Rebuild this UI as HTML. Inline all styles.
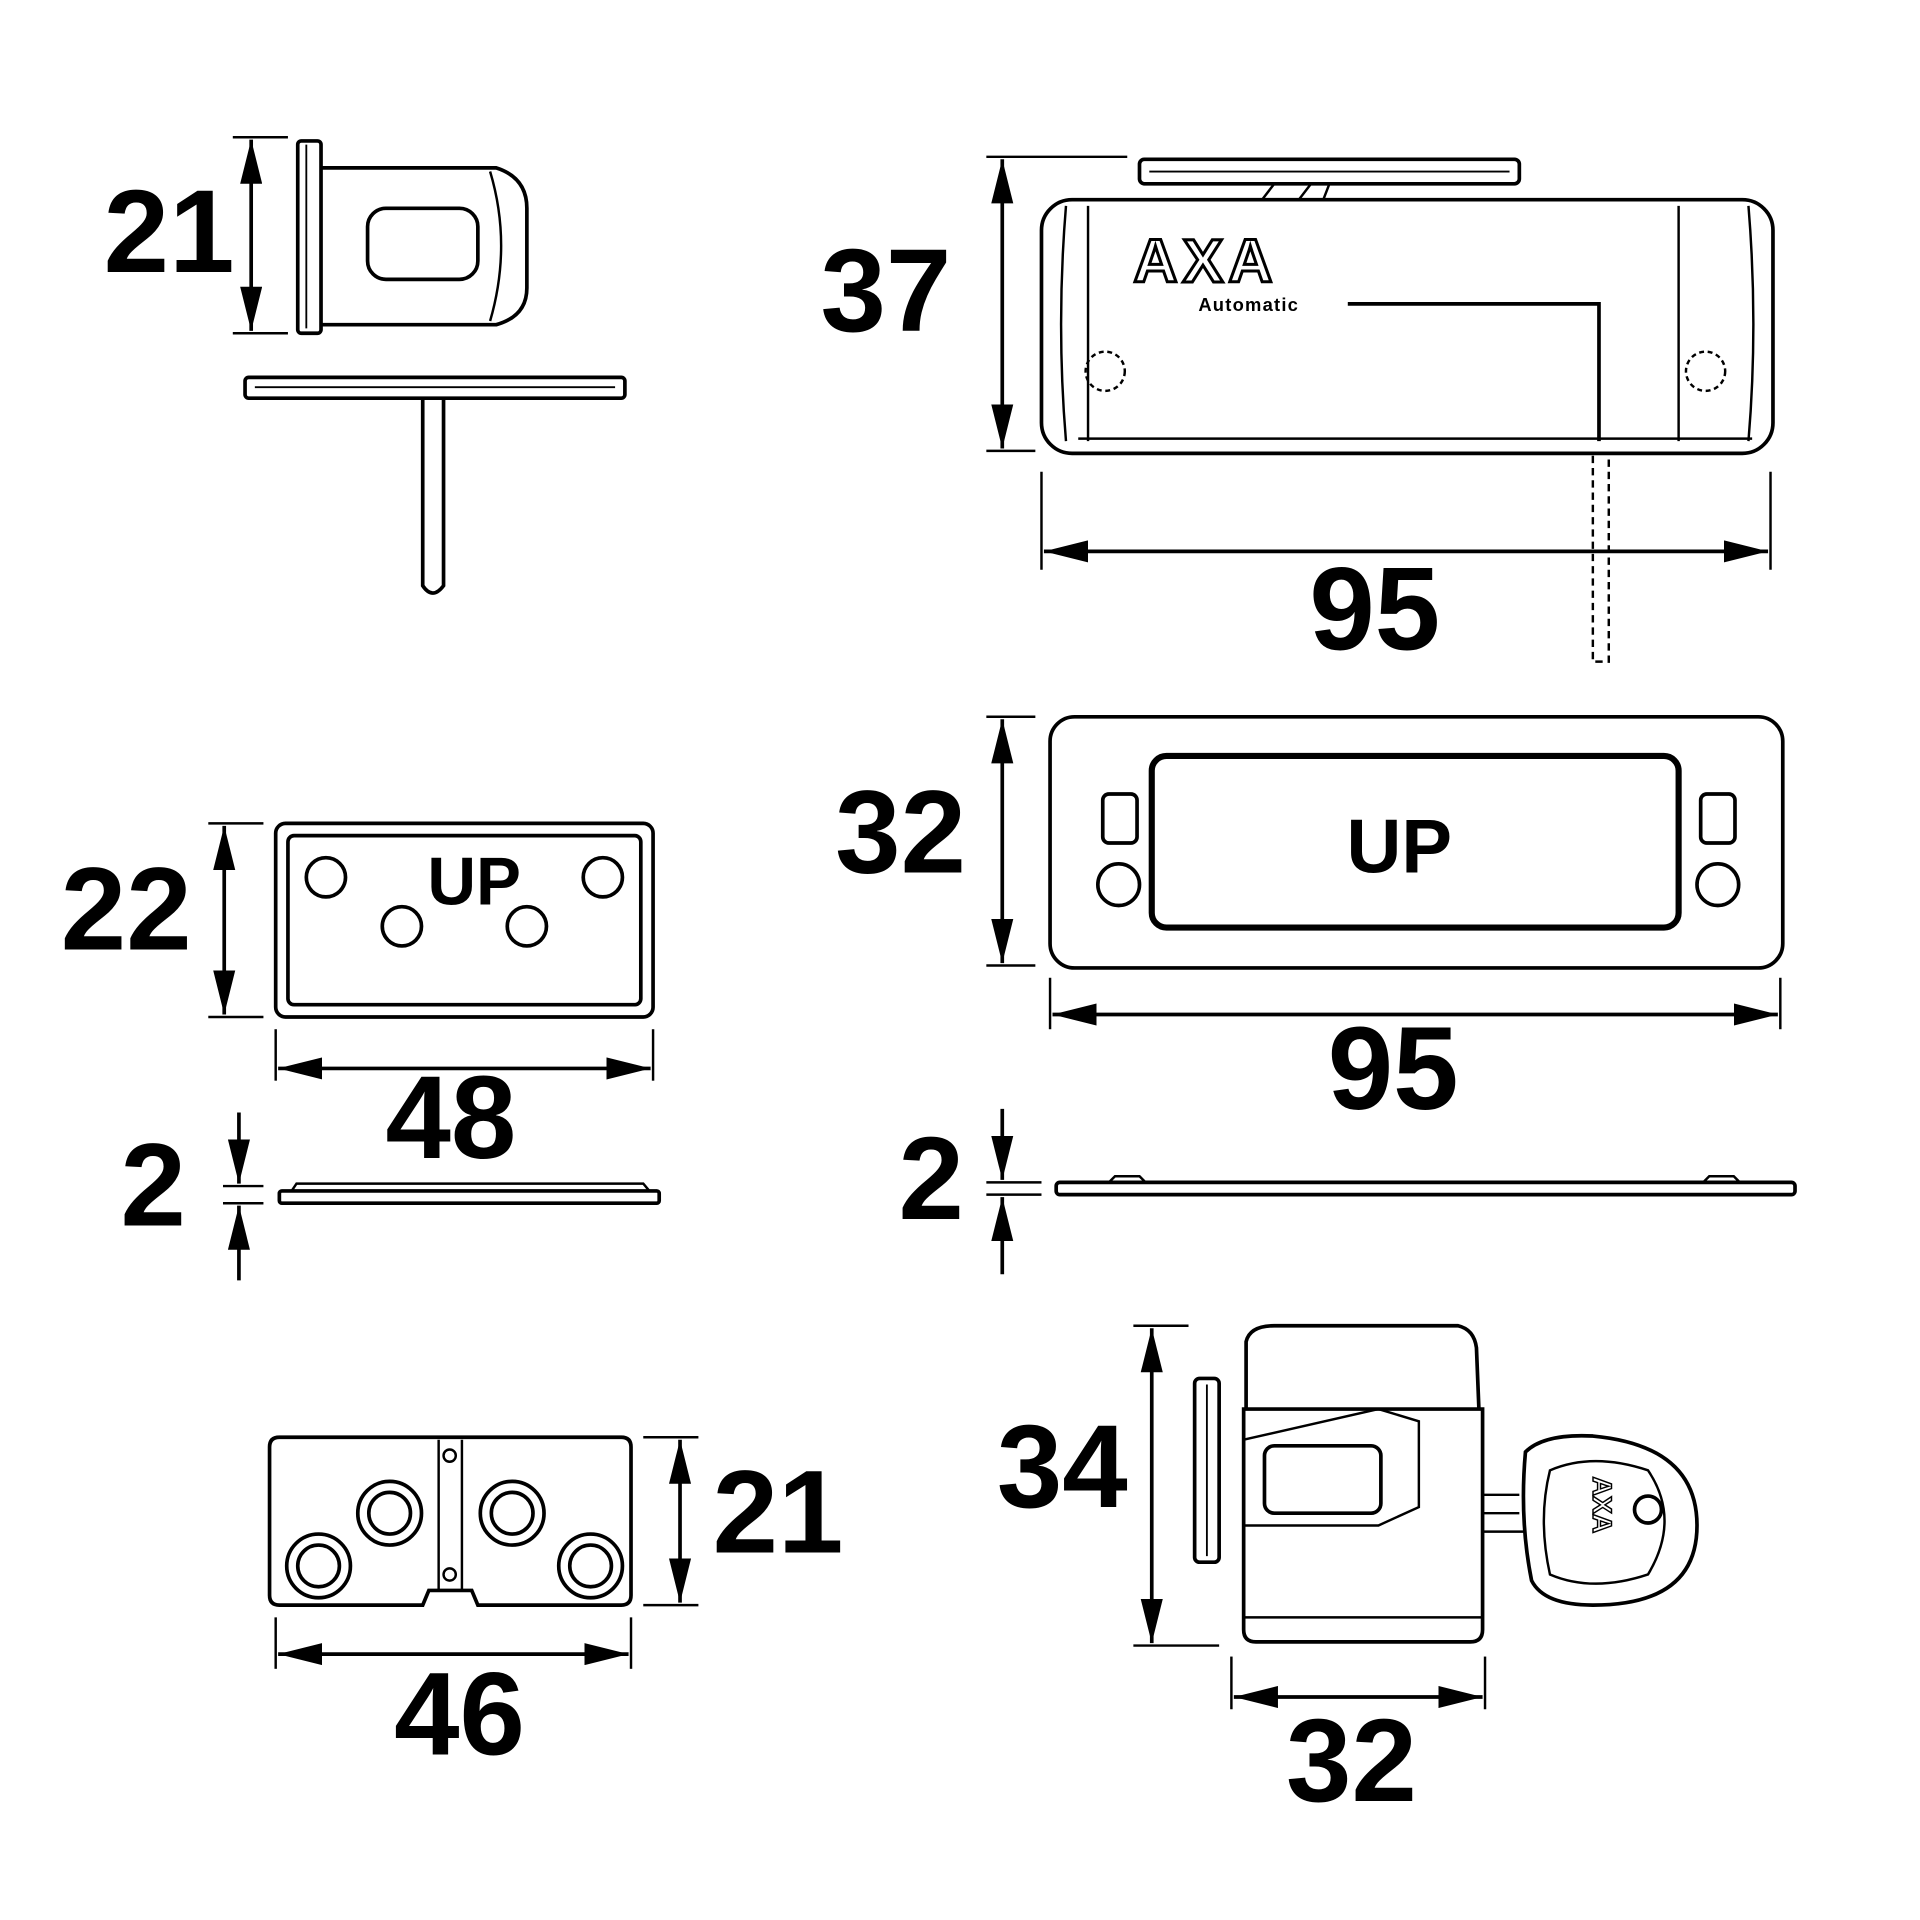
<!DOCTYPE html>
<html><head><meta charset="utf-8"><style>
html,body{margin:0;padding:0;background:#fff;}
svg{display:block;}
text{font-family:"Liberation Sans",sans-serif;font-weight:bold;fill:#000;}
</style></head><body>
<svg width="1920" height="1920" viewBox="0 0 1567 1567" xmlns="http://www.w3.org/2000/svg">
<defs>
<marker id="a" viewBox="0 0 20 10" refX="20" refY="5" markerWidth="36" markerHeight="18" markerUnits="userSpaceOnUse" orient="auto-start-reverse"><path d="M0,0 L20,5 L0,10 z" fill="#000"/></marker>
</defs>
<g fill="none" stroke="#000" stroke-width="3">
<!-- Top-left -->
<line x1="190" y1="112" x2="235" y2="112" stroke-width="2"/>
<line x1="190" y1="272" x2="235" y2="272" stroke-width="2"/>
<line x1="205" y1="114" x2="205" y2="270" marker-start="url(#a)" marker-end="url(#a)"/>
<rect x="243" y="115" width="19" height="157" rx="3"/>
<line x1="250" y1="118" x2="250" y2="268" stroke-width="1.5"/>
<path d="M262,137 L405,137 Q430,145 430,170 L430,235 Q430,258 405,265 L262,265"/>
<path d="M400,140 Q418,200 400,262" stroke-width="2"/>
<rect x="300" y="170" width="90" height="58" rx="15"/>
<rect x="200" y="308" width="310" height="17" rx="3"/>
<line x1="208" y1="316" x2="502" y2="316" stroke-width="1.5"/>
<path d="M345,325 L345,478 Q353,490 362,478 L362,325"/>

<!-- Top-right -->
<line x1="805" y1="128" x2="920" y2="128" stroke-width="2"/>
<line x1="805" y1="368" x2="845" y2="368" stroke-width="2"/>
<line x1="818" y1="130" x2="818" y2="366" marker-start="url(#a)" marker-end="url(#a)"/>
<rect x="930" y="130" width="310" height="20" rx="4"/>
<line x1="938" y1="140" x2="1232" y2="140" stroke-width="1.5"/>
<path d="M1030,163 L1040,150 M1060,163 L1070,150 M1080,163 L1085,150" stroke-width="2"/>
<rect x="850" y="163" width="597" height="207" rx="25"/>
<path d="M870,168 Q862,265 870,360" stroke-width="2"/>
<path d="M1427,168 Q1435,265 1427,360" stroke-width="2"/>
<line x1="1370" y1="168" x2="1370" y2="360" stroke-width="2"/>
<line x1="888" y1="168" x2="888" y2="360" stroke-width="2"/>
<line x1="880" y1="358" x2="1430" y2="358" stroke-width="2"/>
<polyline points="1100,248 1305,248 1305,360"/>
<circle cx="902" cy="303" r="16" stroke-dasharray="4 3" stroke-width="2"/>
<circle cx="1392" cy="303" r="16" stroke-dasharray="4 3" stroke-width="2"/>
<path d="M1300,372 L1300,540 L1313,540 L1313,372" stroke-dasharray="6 4" stroke-width="2"/>
<line x1="850" y1="385" x2="850" y2="465" stroke-width="2"/>
<line x1="1445" y1="385" x2="1445" y2="465" stroke-width="2"/>
<line x1="852" y1="450" x2="1443" y2="450" marker-start="url(#a)" marker-end="url(#a)"/>

<!-- Middle-right -->
<rect x="857" y="585" width="598" height="205" rx="20"/>
<rect x="940" y="617" width="430" height="140" rx="12" stroke-width="5"/>
<rect x="900" y="648" width="28" height="40" rx="5"/>
<rect x="1388" y="648" width="28" height="40" rx="5"/>
<circle cx="913" cy="722" r="17"/>
<circle cx="1402" cy="722" r="17"/>
<line x1="805" y1="585" x2="845" y2="585" stroke-width="2"/>
<line x1="805" y1="788" x2="845" y2="788" stroke-width="2"/>
<line x1="818" y1="587" x2="818" y2="786" marker-start="url(#a)" marker-end="url(#a)"/>
<line x1="857" y1="798" x2="857" y2="840" stroke-width="2"/>
<line x1="1453" y1="798" x2="1453" y2="840" stroke-width="2"/>
<line x1="859" y1="828" x2="1451" y2="828" marker-start="url(#a)" marker-end="url(#a)"/>
<rect x="862" y="965" width="603" height="10" rx="3"/>
<path d="M905,965 L910,960 L930,960 L935,965 M1390,965 L1395,960 L1415,960 L1420,965" stroke-width="2"/>
<line x1="805" y1="965" x2="850" y2="965" stroke-width="2"/>
<line x1="805" y1="975" x2="850" y2="975" stroke-width="2"/>
<line x1="818" y1="905" x2="818" y2="963" marker-end="url(#a)"/>
<line x1="818" y1="1040" x2="818" y2="977" marker-end="url(#a)"/>

<!-- Middle-left -->
<rect x="225" y="672" width="308" height="158" rx="8"/>
<rect x="235" y="682" width="288" height="138" rx="5"/>
<circle cx="266" cy="716" r="16"/><circle cx="492" cy="716" r="16"/>
<circle cx="328" cy="756" r="16"/><circle cx="430" cy="756" r="16"/>
<line x1="170" y1="672" x2="215" y2="672" stroke-width="2"/>
<line x1="170" y1="830" x2="215" y2="830" stroke-width="2"/>
<line x1="183" y1="674" x2="183" y2="828" marker-start="url(#a)" marker-end="url(#a)"/>
<line x1="225" y1="840" x2="225" y2="882" stroke-width="2"/>
<line x1="533" y1="840" x2="533" y2="882" stroke-width="2"/>
<line x1="227" y1="872" x2="531" y2="872" marker-start="url(#a)" marker-end="url(#a)"/>
<rect x="228" y="972" width="310" height="10" rx="2"/>
<path d="M238,972 L242,966 L525,966 L530,972" stroke-width="2"/>
<line x1="182" y1="968" x2="215" y2="968" stroke-width="2"/>
<line x1="182" y1="982" x2="215" y2="982" stroke-width="2"/>
<line x1="195" y1="908" x2="195" y2="966" marker-end="url(#a)"/>
<line x1="195" y1="1045" x2="195" y2="984" marker-end="url(#a)"/>

<!-- Bottom-left -->
<path d="M228,1173 L507,1173 Q515,1173 515,1181 L515,1302 Q515,1310 507,1310 L390,1310 L385,1298 L350,1298 L345,1310 L228,1310 Q220,1310 220,1302 L220,1181 Q220,1173 228,1173 Z"/>
<line x1="358" y1="1175" x2="358" y2="1298" stroke-width="2"/>
<line x1="377" y1="1175" x2="377" y2="1298" stroke-width="2"/>
<circle cx="367" cy="1188" r="5" stroke-width="2"/><circle cx="367" cy="1285" r="5" stroke-width="2"/>
<circle cx="318" cy="1235" r="26"/><circle cx="318" cy="1235" r="17"/>
<circle cx="418" cy="1235" r="26"/><circle cx="418" cy="1235" r="17"/>
<circle cx="260" cy="1278" r="26"/><circle cx="260" cy="1278" r="17"/>
<circle cx="482" cy="1278" r="26"/><circle cx="482" cy="1278" r="17"/>
<line x1="525" y1="1173" x2="570" y2="1173" stroke-width="2"/>
<line x1="525" y1="1310" x2="570" y2="1310" stroke-width="2"/>
<line x1="555" y1="1175" x2="555" y2="1308" marker-start="url(#a)" marker-end="url(#a)"/>
<line x1="225" y1="1320" x2="225" y2="1362" stroke-width="2"/>
<line x1="515" y1="1320" x2="515" y2="1362" stroke-width="2"/>
<line x1="227" y1="1350" x2="513" y2="1350" marker-start="url(#a)" marker-end="url(#a)"/>

<!-- Bottom-right -->
<line x1="925" y1="1082" x2="970" y2="1082" stroke-width="2"/>
<line x1="925" y1="1343" x2="995" y2="1343" stroke-width="2"/>
<line x1="940" y1="1084" x2="940" y2="1341" marker-start="url(#a)" marker-end="url(#a)"/>
<rect x="975" y="1125" width="20" height="150" rx="4"/>
<line x1="985" y1="1130" x2="985" y2="1270" stroke-width="1.5"/>
<path d="M1017,1150 L1017,1095 Q1020,1082 1040,1082 L1190,1082 Q1203,1085 1205,1100 L1207,1150"/>
<path d="M1015,1150 L1210,1150 L1210,1330 Q1210,1340 1200,1340 L1025,1340 Q1015,1340 1015,1330 Z"/>
<path d="M1015,1175 L1125,1150 L1158,1160 L1158,1230 L1125,1245 L1015,1245" stroke-width="2"/>
<rect x="1032" y="1180" width="95" height="55" rx="8"/>
<line x1="1015" y1="1320" x2="1210" y2="1320" stroke-width="2"/>
<path d="M1210,1220 L1240,1220 M1210,1235 L1240,1235 M1210,1250 L1245,1250" stroke-width="2"/>
<path d="M1245,1185 Q1260,1170 1300,1172 Q1385,1180 1385,1245 Q1385,1310 1300,1310 Q1260,1310 1250,1290 Q1240,1240 1245,1185 Z"/>
<path d="M1265,1200 Q1300,1185 1345,1200 Q1372,1240 1345,1285 Q1300,1300 1265,1285 Q1255,1240 1265,1200 Z" stroke-width="2"/>
<circle cx="1345" cy="1232" r="11"/>
<line x1="1005" y1="1352" x2="1005" y2="1395" stroke-width="2"/>
<line x1="1212" y1="1352" x2="1212" y2="1395" stroke-width="2"/>
<line x1="1007" y1="1385" x2="1210" y2="1385" marker-start="url(#a)" marker-end="url(#a)"/>
</g>

<text x="925" y="230" font-size="50" style="fill:#fff;stroke:#000;stroke-width:2.5;letter-spacing:4px">AXA</text>
<text x="978" y="254" font-size="15" style="letter-spacing:1px">Automatic</text>
<text x="0" y="0" font-size="22" transform="translate(1300,1205) rotate(90)" style="fill:#fff;stroke:#000;stroke-width:1.2">AXA</text>
<text x="1142" y="712" font-size="62" text-anchor="middle">UP</text>
<text x="387" y="738" font-size="55" text-anchor="middle">UP</text>

<g font-size="96" text-anchor="middle">
<text x="138" y="222">21</text>
<text x="723" y="270">37</text>
<text x="1122" y="530">95</text>
<text x="735" y="712">32</text>
<text x="1137" y="905">95</text>
<text x="760" y="995">2</text>
<text x="103" y="775">22</text>
<text x="368" y="945">48</text>
<text x="125" y="1000">2</text>
<text x="635" y="1267">21</text>
<text x="375" y="1432">46</text>
<text x="867" y="1230">34</text>
<text x="1103" y="1470">32</text>
</g>
</svg>
</body></html>
